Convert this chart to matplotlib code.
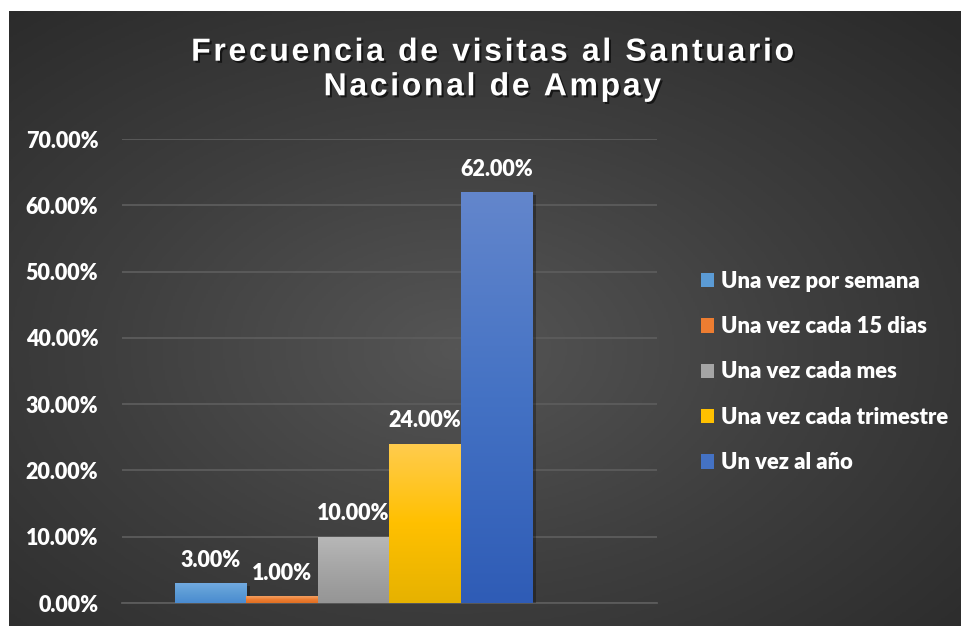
import numpy as np
import matplotlib
matplotlib.use('Agg')
import matplotlib.pyplot as plt
import matplotlib.patheffects as pe
from matplotlib.colors import LinearSegmentedColormap

# datos
categorias = ['Una vez por semana', 'Una vez cada 15 dias', 'Una vez cada mes',
              'Una vez cada trimestre', 'Un vez al año']
porcentajes = [0.03, 0.01, 0.10, 0.24, 0.62]
etiquetas = ['3.00%', '1.00%', '10.00%', '24.00%', '62.00%']
yticks = [0, 0.1, 0.2, 0.3, 0.4, 0.5, 0.6, 0.7]

# colores (claro arriba, base, oscuro abajo)
colores = [('#72aae0', '#5b9bd5', '#4a8bd0'),
           ('#f4a062', '#ed7d31', '#e06f22'),
           ('#b8b8b8', '#a5a5a5', '#959595'),
           ('#ffcc4f', '#ffc000', '#e6b200'),
           ('#6386cc', '#4472c4', '#2f5cb6')]

plt.rcParams['font.family'] = ['Lato', 'DejaVu Sans']
peso = 'heavy'

fig = plt.figure(figsize=(9.62, 6.26), dpi=100)
fig.patch.set_facecolor('white')

# fondo con degradado radial
bg = fig.add_axes([9 / 962, 0, 953 / 962, 615 / 626], zorder=0)
yy, xx = np.mgrid[0:1:300j, 0:1:460j]
r = np.sqrt(((xx - 0.47) / 0.75) ** 2 + ((yy - 0.55) / 0.75) ** 2)
r = np.clip(r, 0, 1)
cmap_bg = LinearSegmentedColormap.from_list('bg', ['#555555', '#3e3e3e', '#2a2a2a'])
bg.imshow(r, cmap=cmap_bg, aspect='auto', extent=[0, 1, 0, 1], vmin=0, vmax=1)
bg.axis('off')

ax = fig.add_axes([122 / 962, 1 - 603 / 626, 535 / 962, 464 / 626], zorder=1)
ax.set_facecolor('none')

x = np.arange(len(categorias))
barras = ax.bar(x, porcentajes, width=1.0, zorder=3)
grad = np.linspace(0, 1, 256).reshape(-1, 1)
for i, b in enumerate(barras):
    claro, base, oscuro = colores[i]
    b.set_facecolor(base)
    b.set_edgecolor('none')
    b.set_path_effects([pe.SimplePatchShadow(offset=(3, -2), alpha=0.3, shadow_rgbFace='black'), pe.Normal()])
    cm = LinearSegmentedColormap.from_list('g%d' % i, [claro, base, oscuro])
    im = ax.imshow(grad, cmap=cm, aspect='auto', zorder=4,
                   extent=[b.get_x(), b.get_x() + b.get_width(), 0, b.get_height()])
    im.set_clip_path(b)
    ax.annotate(etiquetas[i], (b.get_x() + b.get_width() / 2, b.get_height()),
                xytext=(0, 9), textcoords='offset points', ha='center', va='bottom',
                color='white', fontsize=15.5, fontweight=peso, zorder=5)

ax.set_xlim(-1.238, 6.245)
ax.set_ylim(0, 0.70)
ax.set_yticks(yticks)
ax.set_yticklabels(['%.2f%%' % (v * 100) for v in yticks])
ax.set_xticks([])
ax.tick_params(axis='y', length=0, pad=17, labelsize=15.5, labelcolor='white')
for lab in ax.get_yticklabels():
    lab.set_fontweight(peso)
ax.grid(axis='y', color='#5c5c5c', linewidth=1.3, zorder=0)
for s in ['top', 'right', 'left']:
    ax.spines[s].set_visible(False)
ax.spines['bottom'].set_color('#5c5c5c')
ax.spines['bottom'].set_linewidth(1.3)

# leyenda
handles = [plt.Rectangle((0, 0), 1, 1, facecolor=c[1]) for c in colores]
leg = fig.legend(handles, categorias, loc='upper left', bbox_to_anchor=(692 / 962, 1 - 262 / 626),
                 frameon=False, fontsize=15.8, labelspacing=1.11, handlelength=0.62,
                 handleheight=0.62, handletextpad=0.3, borderaxespad=0)
for t in leg.get_texts():
    t.set_color('white')
    t.set_fontweight(peso)

# titulo con espaciado entre letras
def espaciar(s):
    return '\u200a'.join(s)

titulo = espaciar('Frecuencia de visitas al Santuario') + '\n' + espaciar('Nacional de Ampay')
fig.text(492 / 962, 1 - 70 / 626, titulo, ha='center', va='center', color='white',
         fontsize=23, fontweight='bold', family=['Liberation Sans', 'DejaVu Sans'],
         linespacing=1.2,
         path_effects=[pe.withSimplePatchShadow(offset=(1.5, -1.5), alpha=0.6, shadow_rgbFace='black')])

fig.savefig('out.png', dpi=100)
